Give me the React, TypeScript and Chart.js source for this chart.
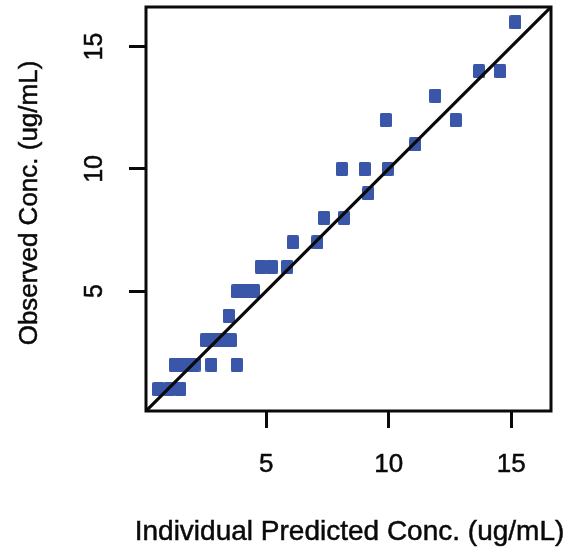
import React, { useEffect, useRef } from "react";
import { Chart, registerables } from "chart.js";

Chart.register(...registerables);

// Individual predicted concentration (x) and observed concentration (y)
const predicted = [
  0.6, 1.05, 1.5,
  1.28, 1.68, 2.08, 2.77, 3.8,
  2.55, 2.9, 3.25, 3.56,
  3.47,
  3.82, 4.17, 4.51,
  4.79, 5.23, 5.86,
  6.09, 7.09,
  7.36, 8.18,
  9.16,
  8.09, 9.02, 9.96,
  11.07,
  9.88, 12.73,
  11.9,
  13.68, 14.55,
  15.17,
];
const observed = [
  1, 1, 1,
  2, 2, 2, 2, 2,
  3, 3, 3, 3,
  4,
  5, 5, 5,
  6, 6, 6,
  7, 7,
  8, 8,
  9,
  10, 10, 10,
  11,
  12, 12,
  13,
  14, 14,
  16,
];
const xTicks = [5, 10, 15];
const yTicks = [5, 10, 15];
const axisMin = 0.1;
const axisMax = 16.62;
const identityX = [axisMin, axisMax];
const identityY = [axisMin, axisMax];
const xTitle = "Individual Predicted Conc. (ug/mL)";
const yTitle = "Observed Conc. (ug/mL)";

const POINT_COLOR = "#3a56a8";
const INK = "#0a0a0a";
const FONT = '"Liberation Sans", Arial, Helvetica, sans-serif';

function makeSquare(): HTMLCanvasElement {
  const c = document.createElement("canvas");
  c.width = 12;
  c.height = 14;
  const g = c.getContext("2d")!;
  g.fillStyle = POINT_COLOR;
  g.beginPath();
  const r = 1.5;
  const w = 12, h = 14;
  g.moveTo(r, 0);
  g.lineTo(w - r, 0);
  g.quadraticCurveTo(w, 0, w, r);
  g.lineTo(w, h - r);
  g.quadraticCurveTo(w, h, w - r, h);
  g.lineTo(r, h);
  g.quadraticCurveTo(0, h, 0, h - r);
  g.lineTo(0, r);
  g.quadraticCurveTo(0, 0, r, 0);
  g.fill();
  return c;
}

function heavyText(ctx: CanvasRenderingContext2D, s: string, x: number, y: number) {
  ctx.fillText(s, x, y);
  ctx.strokeText(s, x, y);
}

const framePlugin = {
  id: "frameAndText",
  afterDraw(chart: any) {
    const { ctx, chartArea: a, scales } = chart;
    ctx.save();
    ctx.strokeStyle = INK;
    ctx.lineWidth = 3;
    ctx.strokeRect(a.left, a.top, a.right - a.left, a.bottom - a.top);

    ctx.fillStyle = INK;
    ctx.lineWidth = 0.5;
    ctx.textAlign = "center";
    ctx.textBaseline = "middle";
    ctx.font = `26px ${FONT}`;
    xTicks.forEach((v) => {
      heavyText(ctx, String(v), scales.x.getPixelForValue(v), a.bottom + 54);
    });
    ctx.font = `25px ${FONT}`;
    yTicks.forEach((v) => {
      ctx.save();
      ctx.translate(a.left - 51, scales.y.getPixelForValue(v));
      ctx.rotate(-Math.PI / 2);
      heavyText(ctx, String(v), 0, 0);
      ctx.restore();
    });

    ctx.font = `28px ${FONT}`;
    heavyText(ctx, xTitle, (a.left + a.right) / 2 + 1, a.bottom + 121);

    ctx.font = `26px ${FONT}`;
    ctx.save();
    ctx.translate(30, (a.top + a.bottom) / 2 - 6);
    ctx.rotate(-Math.PI / 2);
    heavyText(ctx, yTitle, 0, 0);
    ctx.restore();
    ctx.restore();
  },
};

export default function App() {
  const ref = useRef<HTMLCanvasElement | null>(null);

  useEffect(() => {
    document.body.style.margin = "0";
    const canvas = ref.current;
    if (!canvas) return;
    const square = makeSquare();
    const points = predicted.map((x, i) => ({ x, y: observed[i] }));
    const line = identityX.map((x, i) => ({ x, y: identityY[i] }));

    const tickScaleCommon = (isX: boolean) => ({
      type: "linear" as const,
      min: axisMin,
      max: axisMax,
      afterBuildTicks: (scale: any) => {
        scale.ticks = (isX ? xTicks : yTicks).map((v) => ({ value: v }));
      },
      afterFit: (scale: any) => {
        if (isX) scale.height = 0;
        else scale.width = 0;
      },
      ticks: { display: false },
      border: { display: false },
      grid: {
        display: true,
        drawOnChartArea: false,
        drawTicks: true,
        tickLength: 17,
        tickWidth: 3,
        tickColor: INK,
      },
    });

    const chart = new Chart(canvas, {
      type: "scatter",
      data: {
        datasets: [
          {
            type: "line",
            data: line,
            borderColor: INK,
            borderWidth: 3.2,
            pointRadius: 0,
            fill: false,
            order: 0,
          },
          {
            type: "scatter",
            data: points,
            pointStyle: square as any,
            pointRadius: 7,
            backgroundColor: POINT_COLOR,
            borderWidth: 0,
            order: 1,
          },
        ],
      } as any,
      options: {
        animation: false,
        responsive: true,
        maintainAspectRatio: false,
        layout: { padding: { left: 146, top: 6, right: 36, bottom: 144 } },
        plugins: {
          legend: { display: false },
          tooltip: { enabled: false },
        },
        scales: {
          x: tickScaleCommon(true),
          y: tickScaleCommon(false),
        } as any,
      },
      plugins: [framePlugin],
    });
    return () => chart.destroy();
  }, []);

  return (
    <div style={{ width: 587, height: 555, position: "relative", background: "#fff" }}>
      <canvas ref={ref} />
    </div>
  );
}
